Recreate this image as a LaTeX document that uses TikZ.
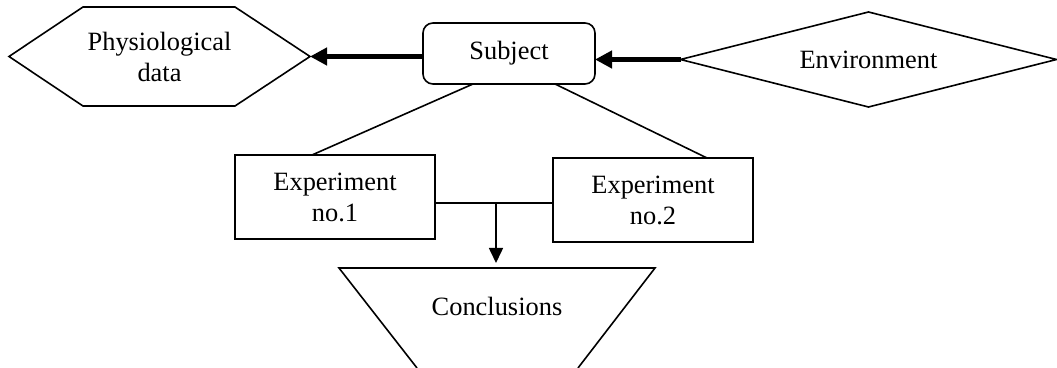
\documentclass[tikz,border=0pt]{standalone}
\usepackage{fontspec}
\setmainfont{Liberation Serif}
\usetikzlibrary{shapes.geometric,arrows.meta}

\begin{document}
\begin{tikzpicture}[x=0.5pt,y=-0.5pt]
    \tikzset{
        boxstyle/.style={draw, line width=0.8pt, inner sep=0pt, outer sep=0pt, align=center, font=\fontsize{13.2}{15.5}\selectfont},
        labelstyle/.style={inner sep=0pt, outer sep=0pt, align=center, font=\fontsize{13.2}{15.5}\selectfont},
        thinline/.style={line width=0.8pt},
        thickarrow/.style={line width=2.5pt, -{Triangle[length=8.5pt,width=8.5pt]}},
        smallarrow/.style={line width=0.8pt, -{Triangle[length=7.5pt,width=7pt]}}
    }
    \useasboundingbox (0,0) rectangle (1057,368);

    % --- 1. SUBJECT ---
    \node[boxstyle, rounded corners=5pt, minimum width=86pt, minimum height=30.5pt] (subj) at (509,53.5) {Subject};

    % --- 2. PHYSIOLOGICAL DATA (hexagon) ---
    \node[labelstyle, minimum width=150.5pt, minimum height=49.5pt] (phys) at (159.5,56.5) {Physiological\\data};
    \draw[thinline] (phys.west) -- ([xshift=37pt]phys.north west) -- ([xshift=-37.5pt]phys.north east)
        -- (phys.east) -- ([xshift=-37.5pt]phys.south east) -- ([xshift=37pt]phys.south west) -- cycle;

    % --- 3. ENVIRONMENT ---
    \node[boxstyle, diamond, aspect=3.96, minimum width=188pt, minimum height=47.5pt] (env) at (868.5,59.5) {Environment};

    % Thick arrows
    \draw[thickarrow] (env.west) -- (env.west -| subj.east);
    \draw[thickarrow] (phys.east -| subj.west) -- (phys.east);

    % --- 4. EXPERIMENTS ---
    \node[boxstyle, minimum width=100pt, minimum height=42pt] (exp1) at (335,197) {Experiment\\no.1};
    \node[boxstyle, minimum width=100pt, minimum height=42pt] (exp2) at (653,200) {Experiment\\no.2};

    \draw[thinline] ([xshift=-18pt]subj.south) -- ([xshift=-11.5pt]exp1.north);
    \draw[thinline] ([xshift=23pt]subj.south) -- ([xshift=27pt]exp2.north);

    % Junction between the experiments
    \coordinate (jn) at (496,203);
    \draw[thinline] (exp1.east |- jn) -- (exp2.west |- jn);

    % --- 5. CONCLUSIONS ---
    \coordinate (ctop) at (497,268);
    \node[labelstyle] (concl) at (497,306) {Conclusions};
    \draw[thinline] (417,368) -- (339,268) -- (655,268) -- (578,368);

    \draw[smallarrow, shorten >=2.5pt] (jn) -- (jn |- ctop);

\end{tikzpicture}
\end{document}
